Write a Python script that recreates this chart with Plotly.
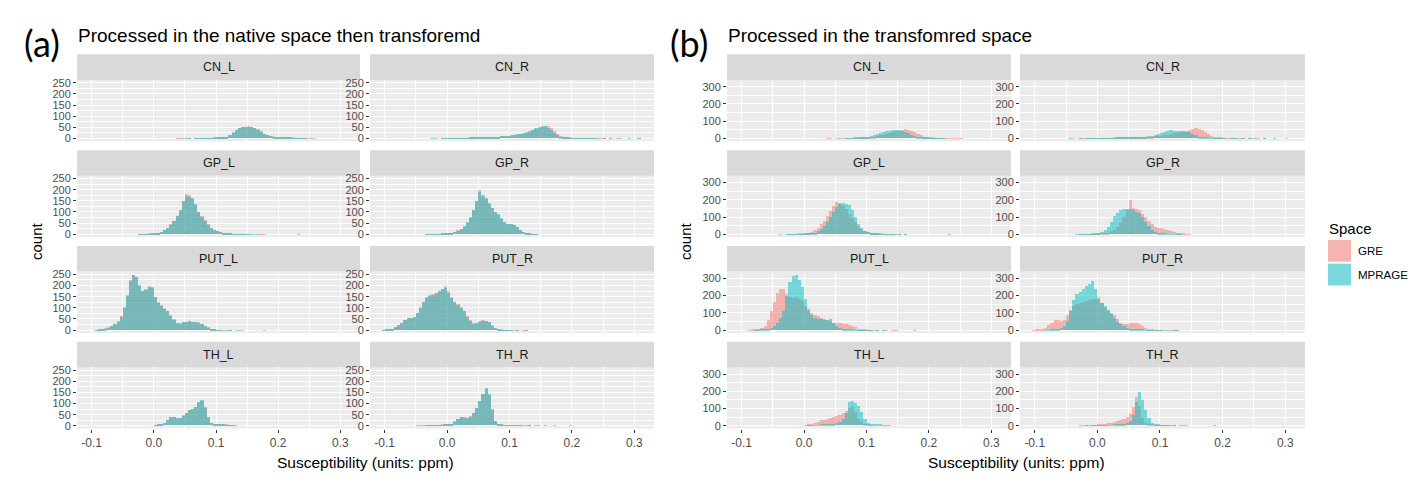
import numpy as np
import plotly.graph_objects as go

W, H = 1418, 480
BIN = 0.005

regions = ['CN_L', 'CN_R', 'GP_L', 'GP_R', 'PUT_L', 'PUT_R', 'TH_L', 'TH_R']
spaces = ['GRE', 'MPRAGE']
x_tickvals = [-0.1, 0.0, 0.1, 0.2, 0.3]
x_ticktext = ['-0.1', '0.0', '0.1', '0.2', '0.3']
x_minor = [-0.05, 0.05, 0.15, 0.25]
native_yticks = [0, 50, 100, 150, 200, 250]
native_yminor = [25, 75, 125, 175, 225]
transf_yticks = [0, 100, 200, 300]
transf_yminor = [50, 150, 250]

# --- (a) processed in native space: counts per 0.005 bin, starting at x0 ---
nat_cn_l_gre_x0 = 0.035
nat_cn_l_gre = [1, 0, 1, 0, 1, 0, 1, 1, 2, 1, 2, 2, 2, 3, 3, 4, 6, 14, 26, 38, 46, 52, 50, 54, 52,
                48, 42, 32, 22, 15, 11, 9, 7, 6, 5, 4, 3, 3, 2, 2, 1, 1, 1, 0, 1]
nat_cn_l_mpr_x0 = 0.040
nat_cn_l_mpr = [1, 0, 1, 1, 0, 1, 2, 1, 2, 2, 2, 3, 3, 3, 5, 8, 16, 28, 40, 47, 50, 52, 51, 50,
                45, 40, 30, 20, 14, 10, 8, 7, 5, 4, 4, 3, 2, 2, 1, 1, 1, 0, 1]

nat_cn_r_gre_x0 = -0.020
nat_cn_r_gre = [1, 0, 1, 1, 1, 1, 2, 1, 2, 2, 2, 3, 3, 3, 4, 4, 5, 5, 6, 7, 8, 9, 10, 11, 13, 15,
                17, 19, 22, 26, 30, 36, 42, 48, 52, 56, 54, 46, 34, 22, 12, 7, 4, 3, 2, 2, 1, 2,
                1, 1, 1, 1, 0, 1, 1, 0, 1, 0, 1, 0, 0, 0, 0, 0, 0, 1]
nat_cn_r_mpr_x0 = -0.025
nat_cn_r_mpr = [1, 0, 0, 1, 1, 1, 1, 2, 2, 2, 2, 2, 3, 3, 4, 4, 5, 5, 6, 7, 7, 8, 9, 11, 12, 14,
                16, 19, 21, 24, 29, 34, 40, 46, 50, 54, 55, 48, 36, 24, 14, 8, 5, 3, 2, 2, 1, 1,
                1, 1, 1, 1, 1, 1, 0, 1, 0, 1, 0, 0, 1, 0, 0, 1, 0, 0, 1]

nat_gp_l_gre_x0 = -0.025
nat_gp_l_gre = [2, 2, 2, 3, 3, 5, 8, 12, 20, 30, 45, 62, 82, 110, 150, 182, 176, 160, 132, 102,
                82, 64, 45, 30, 20, 16, 12, 8, 5, 3, 2, 1, 2, 1, 1, 2, 0, 1, 0, 1, 1,
                0, 0, 0, 0, 0, 0, 0, 0, 0, 0, 1]
nat_gp_l_mpr_x0 = -0.025
nat_gp_l_mpr = [1, 2, 2, 2, 3, 5, 8, 12, 19, 30, 44, 62, 84, 112, 148, 172, 170, 162, 135, 100,
                80, 62, 42, 28, 19, 14, 10, 7, 5, 3, 2, 2, 1, 1, 1, 1, 1, 0, 1]

nat_gp_r_gre_x0 = -0.035
nat_gp_r_gre = [1, 1, 1, 2, 2, 3, 4, 5, 8, 12, 18, 25, 35, 52, 75, 110, 150, 200, 170, 160, 140,
                118, 102, 88, 70, 55, 45, 46, 44, 32, 20, 10, 5, 3, 2, 1]
nat_gp_r_mpr_x0 = -0.035
nat_gp_r_mpr = [1, 1, 2, 2, 2, 3, 4, 6, 8, 12, 17, 25, 36, 54, 78, 112, 150, 192, 176, 162, 138,
                120, 100, 90, 72, 56, 46, 47, 42, 33, 20, 10, 5, 3, 2, 1]

nat_put_l_gre_x0 = -0.095
nat_put_l_gre = [2, 4, 6, 9, 14, 20, 28, 42, 65, 105, 160, 225, 248, 240, 205, 178, 185, 198, 192,
                 150, 128, 115, 100, 88, 68, 50, 35, 32, 38, 40, 42, 40, 40, 36, 30, 22, 14, 8, 4,
                 2, 1, 1, 0, 1, 0, 1, 0, 1, 0, 0, 0, 0, 0, 0, 1]
nat_put_l_mpr_x0 = -0.095
nat_put_l_mpr = [1, 3, 5, 8, 13, 19, 27, 40, 62, 100, 155, 220, 250, 238, 200, 175, 180, 195, 196,
                 148, 125, 112, 98, 86, 66, 48, 34, 31, 36, 38, 41, 39, 38, 34, 28, 20, 12, 7, 3,
                 2, 1, 0, 1, 1, 0, 0, 1]

nat_put_r_gre_x0 = -0.105
nat_put_r_gre = [2, 3, 4, 8, 15, 25, 35, 48, 55, 55, 62, 80, 105, 130, 148, 158, 162, 168, 178,
                 185, 198, 175, 150, 128, 118, 105, 88, 65, 45, 32, 35, 42, 45, 44, 38, 25, 12, 5,
                 3, 2, 1, 1, 1, 1, 0, 1, 1]
nat_put_r_mpr_x0 = -0.105
nat_put_r_mpr = [1, 3, 4, 7, 14, 24, 34, 46, 54, 56, 60, 78, 102, 128, 146, 156, 160, 166, 176,
                 184, 192, 170, 146, 126, 116, 102, 86, 62, 42, 30, 33, 40, 44, 42, 36, 22, 10, 4,
                 2, 1, 1, 1, 0, 1, 0, 0, 1]

nat_th_l_gre_x0 = 0.000
nat_th_l_gre = [2, 4, 6, 12, 25, 38, 40, 30, 32, 45, 58, 70, 75, 82, 100, 110, 80, 35, 12, 6, 4, 4,
                3, 3, 2, 1, 1]
nat_th_l_mpr_x0 = 0.000
nat_th_l_mpr = [1, 3, 6, 11, 24, 36, 38, 32, 33, 44, 56, 68, 76, 84, 104, 115, 84, 36, 12, 7, 4, 3,
                3, 2, 1, 1]

nat_th_r_gre_x0 = -0.050
nat_th_r_gre = [1, 0, 1, 1, 1, 2, 1, 2, 3, 3, 5, 8, 18, 30, 38, 36, 34, 42, 55, 80, 110, 140, 162,
                135, 70, 22, 6, 3, 2, 1, 2, 1, 1, 1, 1, 0, 1, 0, 1, 1, 0, 0, 0, 0, 1, 0, 0, 0, 0, 1]
nat_th_r_mpr_x0 = -0.050
nat_th_r_mpr = [0, 1, 0, 1, 1, 1, 2, 2, 2, 3, 4, 8, 17, 28, 37, 35, 33, 40, 54, 78, 108, 142, 166,
                140, 72, 22, 7, 3, 2, 1, 1, 2, 1, 1, 0, 1, 1, 0, 0, 0, 0, 1]

# --- (b) processed in the transformed space ---
trn_cn_l_gre_x0 = 0.035
trn_cn_l_gre = [1, 1, 0, 1, 0, 1, 1, 1, 2, 2, 2, 3, 3, 5, 7, 10, 14, 18, 22, 26, 32, 38, 42, 46,
                50, 54, 52, 46, 38, 28, 18, 10, 6, 4, 3, 2, 2, 2, 1, 2, 1, 1, 1, 1]
trn_cn_l_mpr_x0 = 0.055
trn_cn_l_mpr = [1, 0, 1, 1, 2, 3, 4, 5, 7, 10, 15, 22, 28, 34, 38, 42, 46, 48, 50, 47, 44, 38, 30,
                22, 14, 9, 6, 4, 3, 2, 2, 1, 1, 1]

trn_cn_r_gre_x0 = -0.040
trn_cn_r_gre = [1, 0, 1, 1, 1, 1, 1, 1, 2, 1, 2, 2, 2, 2, 3, 3, 3, 4, 4, 5, 5, 6, 7, 8, 9, 11, 13,
                15, 17, 20, 23, 26, 29, 32, 35, 38, 42, 48, 56, 58, 56, 50, 40, 28, 16, 9, 5, 3,
                2, 2, 1, 2, 1, 1, 1, 0, 1, 1, 0, 1, 0, 1, 0, 0, 0, 0, 0, 0, 1]
trn_cn_r_mpr_x0 = -0.045
trn_cn_r_mpr = [1, 0, 0, 1, 0, 1, 1, 1, 1, 1, 2, 2, 2, 2, 3, 3, 3, 3, 3, 3, 4, 5, 6, 8, 10, 13, 16,
                20, 25, 32, 40, 45, 48, 46, 45, 44, 42, 40, 35, 28, 18, 10, 6, 4, 3, 2, 2, 1, 1,
                1, 0, 1, 1, 1, 0, 1, 0, 1, 0, 1, 0, 0, 1, 0, 0, 1]

trn_gp_l_gre_x0 = -0.025
trn_gp_l_gre = [1, 2, 2, 3, 3, 5, 8, 15, 25, 40, 58, 80, 105, 135, 165, 190, 180, 165, 145, 120,
                95, 70, 48, 32, 22, 15, 10, 7, 5, 3, 2, 2, 1, 1, 1, 1, 0, 1,
                0, 0, 0, 0, 0, 0, 0, 0, 0, 0, 0, 0, 0, 1]
trn_gp_l_mpr_x0 = -0.040
trn_gp_l_mpr = [1, 0, 1, 1, 1, 2, 2, 2, 3, 4, 6, 10, 18, 30, 48, 72, 100, 130, 158, 178, 180, 175,
                168, 140, 100, 62, 35, 18, 12, 7, 4, 3, 2, 1, 1, 2, 1, 0, 1, 0, 1]

trn_gp_r_gre_x0 = -0.030
trn_gp_r_gre = [1, 1, 1, 2, 2, 2, 3, 4, 6, 10, 18, 28, 42, 68, 100, 140, 198, 155, 148, 140, 120,
                100, 80, 60, 46, 40, 36, 32, 24, 18, 12, 8, 5, 3, 2, 1]
trn_gp_r_mpr_x0 = -0.035
trn_gp_r_mpr = [1, 1, 1, 2, 2, 3, 4, 6, 12, 25, 45, 75, 105, 125, 140, 145, 150, 148, 140, 132,
                122, 100, 75, 48, 28, 15, 9, 5, 3, 2, 1, 1, 1, 1]

trn_put_l_gre_x0 = -0.090
trn_put_l_gre = [2, 4, 6, 10, 16, 28, 60, 115, 165, 215, 238, 243, 212, 195, 190, 192, 185, 170,
                 140, 115, 100, 90, 82, 74, 68, 62, 55, 42, 44, 45, 40, 36, 32, 25, 18, 10, 5, 3,
                 2, 1, 1, 1, 0, 1, 1, 0, 1, 0, 0, 0, 0, 0, 0, 1]
trn_put_l_mpr_x0 = -0.080
trn_put_l_mpr = [1, 2, 3, 5, 9, 15, 25, 45, 70, 115, 200, 280, 318, 322, 292, 250, 185, 125, 90,
                 75, 68, 64, 62, 60, 68, 45, 25, 15, 9, 6, 4, 3, 2, 2, 1, 1, 1, 1, 0, 1, 0, 1, 0,
                 0, 0, 1]

trn_put_r_gre_x0 = -0.105
trn_put_r_gre = [1, 3, 4, 8, 16, 30, 45, 58, 60, 55, 62, 90, 120, 142, 155, 160, 165, 170, 175,
                 180, 185, 195, 160, 130, 112, 100, 88, 65, 45, 38, 36, 42, 45, 42, 38, 28, 15, 6,
                 3, 2, 1, 1, 1, 0, 1, 1, 1]
trn_put_r_mpr_x0 = -0.085
trn_put_r_mpr = [1, 2, 3, 4, 6, 12, 25, 55, 110, 175, 210, 225, 240, 255, 272, 285, 240, 185, 160,
                 140, 118, 95, 72, 50, 35, 24, 16, 11, 8, 5, 4, 3, 2, 2, 1, 1, 1, 1, 0, 1, 0, 1, 1]

trn_th_l_gre_x0 = 0.000
trn_th_l_gre = [2, 4, 8, 14, 22, 30, 34, 38, 42, 48, 55, 62, 70, 85, 100, 110, 78, 40, 18, 8, 4, 2]
trn_th_l_mpr_x0 = 0.005
trn_th_l_mpr = [1, 1, 2, 2, 3, 3, 4, 6, 9, 14, 22, 38, 75, 138, 140, 132, 115, 78, 38, 14, 9, 7, 4,
                3, 2, 1, 2]

trn_th_r_gre_x0 = -0.030
trn_th_r_gre = [1, 1, 1, 2, 2, 2, 3, 5, 8, 12, 16, 20, 25, 30, 36, 48, 65, 105, 165, 115, 45, 12,
                5, 3, 2, 1, 1, 1, 1, 0, 1, 0, 0, 1, 1]
trn_th_r_mpr_x0 = -0.020
trn_th_r_mpr = [1, 0, 1, 1, 1, 1, 2, 2, 2, 3, 3, 5, 8, 14, 25, 62, 135, 192, 145, 88, 45, 16, 7, 4,
                2, 1, 2, 1, 1, 0, 1, 0, 0, 0, 0, 0, 0, 0, 0, 0, 0, 1]

native = {
    ('CN_L', 'GRE'): (nat_cn_l_gre_x0, nat_cn_l_gre), ('CN_L', 'MPRAGE'): (nat_cn_l_mpr_x0, nat_cn_l_mpr),
    ('CN_R', 'GRE'): (nat_cn_r_gre_x0, nat_cn_r_gre), ('CN_R', 'MPRAGE'): (nat_cn_r_mpr_x0, nat_cn_r_mpr),
    ('GP_L', 'GRE'): (nat_gp_l_gre_x0, nat_gp_l_gre), ('GP_L', 'MPRAGE'): (nat_gp_l_mpr_x0, nat_gp_l_mpr),
    ('GP_R', 'GRE'): (nat_gp_r_gre_x0, nat_gp_r_gre), ('GP_R', 'MPRAGE'): (nat_gp_r_mpr_x0, nat_gp_r_mpr),
    ('PUT_L', 'GRE'): (nat_put_l_gre_x0, nat_put_l_gre), ('PUT_L', 'MPRAGE'): (nat_put_l_mpr_x0, nat_put_l_mpr),
    ('PUT_R', 'GRE'): (nat_put_r_gre_x0, nat_put_r_gre), ('PUT_R', 'MPRAGE'): (nat_put_r_mpr_x0, nat_put_r_mpr),
    ('TH_L', 'GRE'): (nat_th_l_gre_x0, nat_th_l_gre), ('TH_L', 'MPRAGE'): (nat_th_l_mpr_x0, nat_th_l_mpr),
    ('TH_R', 'GRE'): (nat_th_r_gre_x0, nat_th_r_gre), ('TH_R', 'MPRAGE'): (nat_th_r_mpr_x0, nat_th_r_mpr),
}
transformed = {
    ('CN_L', 'GRE'): (trn_cn_l_gre_x0, trn_cn_l_gre), ('CN_L', 'MPRAGE'): (trn_cn_l_mpr_x0, trn_cn_l_mpr),
    ('CN_R', 'GRE'): (trn_cn_r_gre_x0, trn_cn_r_gre), ('CN_R', 'MPRAGE'): (trn_cn_r_mpr_x0, trn_cn_r_mpr),
    ('GP_L', 'GRE'): (trn_gp_l_gre_x0, trn_gp_l_gre), ('GP_L', 'MPRAGE'): (trn_gp_l_mpr_x0, trn_gp_l_mpr),
    ('GP_R', 'GRE'): (trn_gp_r_gre_x0, trn_gp_r_gre), ('GP_R', 'MPRAGE'): (trn_gp_r_mpr_x0, trn_gp_r_mpr),
    ('PUT_L', 'GRE'): (trn_put_l_gre_x0, trn_put_l_gre), ('PUT_L', 'MPRAGE'): (trn_put_l_mpr_x0, trn_put_l_mpr),
    ('PUT_R', 'GRE'): (trn_put_r_gre_x0, trn_put_r_gre), ('PUT_R', 'MPRAGE'): (trn_put_r_mpr_x0, trn_put_r_mpr),
    ('TH_L', 'GRE'): (trn_th_l_gre_x0, trn_th_l_gre), ('TH_L', 'MPRAGE'): (trn_th_l_mpr_x0, trn_th_l_mpr),
    ('TH_R', 'GRE'): (trn_th_r_gre_x0, trn_th_r_gre), ('TH_R', 'MPRAGE'): (trn_th_r_mpr_x0, trn_th_r_mpr),
}

colors = {'GRE': '#F8766D', 'MPRAGE': '#00BFC4'}
key_colors = {'GRE': '#F5B4AF', 'MPRAGE': '#79D8DB'}
FONT = 'Liberation Sans, Arial, sans-serif'
NARROW = 'Liberation Sans Narrow, Liberation Sans, Arial, sans-serif'

# Layout in pixels
panels = [
    dict(data=native, cols=[(77, 360), (370, 654)], yrange=[-12.5, 262.5],
         yticks=native_yticks, yminor=native_yminor, tag='(a)', tag_x=22,
         title='Processed in the native space then transforemd', ylab_x=37),
    dict(data=transformed, cols=[(727, 1011), (1020, 1305)], yrange=[-16, 339],
         yticks=transf_yticks, yminor=transf_yminor, tag='(b)', tag_x=668,
         title='Processed in the transfomred space', ylab_x=686),
]
XRANGE = [-0.1235, 0.3315]


def px(x):
    return x / W


def py(y):
    return 1 - y / H


fig = go.Figure()
shapes = []
annotations = []

for p, panel in enumerate(panels):
    for i, region in enumerate(regions):
        row, col = i // 2, i % 2
        n = p * 8 + i + 1
        xa = 'x' if n == 1 else f'x{n}'
        ya = 'y' if n == 1 else f'y{n}'
        x0, x1 = panel['cols'][col]
        top = 78 + 97 * row
        bottom = 140 + 97 * row
        strip_top = 52 + 97 * row

        for s in spaces:
            start, counts = panel['data'][(region, s)]
            centers = start + BIN * (np.arange(len(counts)) + 0.5)
            fig.add_trace(go.Bar(
                x=centers, y=counts, width=BIN, xaxis=xa, yaxis=ya,
                marker=dict(color=colors[s], line=dict(width=0)), opacity=0.5,
                name=s, showlegend=False,
                hovertemplate=region + ' ' + s + '<br>%{x:.3f}: %{y}<extra></extra>'))

        bottom_row = row == 3
        fig.layout[('xaxis' if n == 1 else f'xaxis{n}')] = dict(
            domain=[px(x0), px(x1)], anchor=ya, range=XRANGE,
            tickmode='array', tickvals=x_tickvals, ticktext=x_ticktext,
            showticklabels=bottom_row, ticks='outside' if bottom_row else '',
            ticklen=3, tickwidth=1, tickcolor='#333333',
            tickfont=dict(family=FONT, size=12, color='#4D4D4D'),
            showgrid=True, gridcolor='white', gridwidth=1.3, zeroline=False,
            minor=dict(tickmode='array', tickvals=x_minor, showgrid=True,
                       gridcolor='white', gridwidth=0.6),
            fixedrange=True)
        fig.layout[('yaxis' if n == 1 else f'yaxis{n}')] = dict(
            domain=[py(bottom), py(top)], anchor=xa, range=panel['yrange'],
            tickmode='array', tickvals=panel['yticks'],
            ticks='outside', ticklen=3, tickwidth=1, tickcolor='#333333',
            tickfont=dict(family=NARROW, size=11, color='#4D4D4D'),
            showgrid=True, gridcolor='white', gridwidth=1.3, zeroline=False,
            minor=dict(tickmode='array', tickvals=panel['yminor'], showgrid=True,
                       gridcolor='white', gridwidth=0.6),
            fixedrange=True)

        # facet strip
        shapes.append(dict(type='rect', xref='paper', yref='paper',
                           x0=px(x0), x1=px(x1), y0=py(top), y1=py(strip_top),
                           fillcolor='#D9D9D9', line=dict(width=0), layer='below'))
        annotations.append(dict(text=region, xref='paper', yref='paper',
                                x=px((x0 + x1) / 2), y=py((top + strip_top) / 2),
                                showarrow=False, xanchor='center', yanchor='middle',
                                font=dict(family=FONT, size=12.5, color='#1A1A1A')))

    left = panel['cols'][0][0]
    right = panel['cols'][1][1]
    annotations += [
        dict(text=panel['tag'], xref='paper', yref='paper', x=px(panel['tag_x']), y=py(40),
             showarrow=False, xanchor='left', yanchor='middle',
             font=dict(family='Lato, Open Sans, sans-serif', size=36, color='black')),
        dict(text=panel['title'], xref='paper', yref='paper', x=px(left - 1), y=py(33),
             showarrow=False, xanchor='left', yanchor='middle',
             font=dict(family=FONT, size=19, color='black')),
        dict(text='Susceptibility (units: ppm)', xref='paper', yref='paper',
             x=px((left + right) / 2), y=py(465), showarrow=False,
             xanchor='center', yanchor='middle',
             font=dict(family=FONT, size=15.5, color='black')),
        dict(text='count', xref='paper', yref='paper', x=px(panel['ylab_x']), y=py(241),
             showarrow=False, textangle=-90, xanchor='center', yanchor='middle',
             font=dict(family=FONT, size=15, color='black')),
    ]

# legend (drawn by hand to match the ggplot key)
annotations.append(dict(text='Space', xref='paper', yref='paper', x=px(1327), y=py(228),
                        showarrow=False, xanchor='left', yanchor='middle',
                        font=dict(family=FONT, size=15, color='black')))
for k, s in enumerate(spaces):
    ktop = 240 + 24 * k
    shapes.append(dict(type='rect', xref='paper', yref='paper',
                       x0=px(1328), x1=px(1351), y0=py(ktop + 22), y1=py(ktop),
                       fillcolor=key_colors[s], line=dict(width=0)))
    annotations.append(dict(text=s, xref='paper', yref='paper', x=px(1356), y=py(ktop + 11),
                            showarrow=False, xanchor='left', yanchor='middle',
                            font=dict(family=FONT, size=11.5, color='black')))

fig.update_layout(
    width=W, height=H, autosize=False,
    margin=dict(l=0, r=0, t=0, b=0, pad=0),
    paper_bgcolor='white', plot_bgcolor='#EBEBEB',
    barmode='overlay', bargap=0,
    showlegend=False,
    shapes=shapes, annotations=annotations,
    font=dict(family=FONT),
)

fig.write_html('out.html', config={'displayModeBar': False},
               post_script="document.body.style.margin='0';")
